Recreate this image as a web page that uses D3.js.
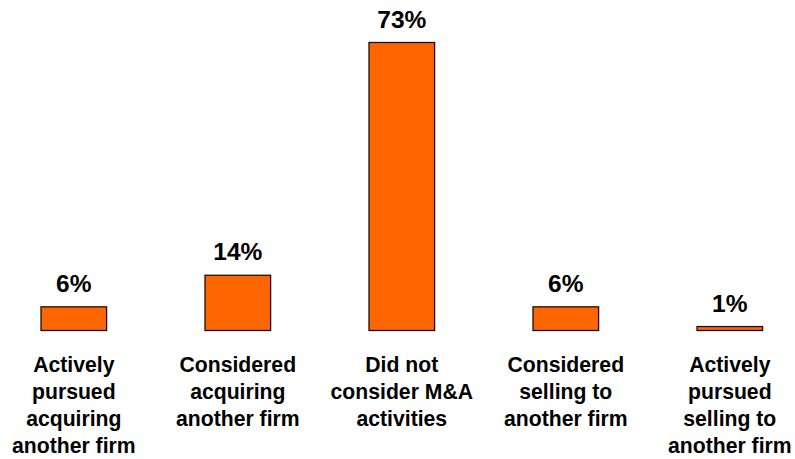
<!DOCTYPE html>
<html>
<head>
<meta charset="utf-8">
<script src="https://cdn.jsdelivr.net/npm/d3@7"></script>
<style>
  html, body { margin: 0; padding: 0; background: #ffffff; }
  svg { display: block; }
  text { font-family: Arial, "Liberation Sans", Helvetica, sans-serif; font-weight: bold; fill: #000; }
</style>
</head>
<body>
<svg id="chart" width="795" height="459"></svg>
<script>
// M&A activity responses
const categories = [
  ["Actively", "pursued", "acquiring", "another firm"],
  ["Considered", "acquiring", "another firm"],
  ["Did not", "consider M&A", "activities"],
  ["Considered", "selling to", "another firm"],
  ["Actively", "pursued", "selling to", "another firm"]
];
const values = [6, 14, 73, 6, 1];
const valueLabels = ["6%", "14%", "73%", "6%", "1%"];

const svg = d3.select("#chart");
const baseline = 330.5;

const x = d3.scaleBand()
  .domain(d3.range(categories.length))
  .range([-8.2, 811.8])
  .paddingInner(0.6)
  .paddingOuter(0.3);

const y = d3.scaleLinear()
  .domain([0, 73])
  .range([baseline, 42.5]);

const g = svg.append("g");

// bars
g.selectAll("rect.bar")
  .data(values)
  .join("rect")
  .attr("class", "bar")
  .attr("x", (d, i) => x(i))
  .attr("y", d => y(d))
  .attr("width", x.bandwidth())
  .attr("height", d => baseline - y(d))
  .attr("fill", "#ff6600")
  .attr("stroke", "#1a1008")
  .attr("stroke-width", 1.3);

// value labels above bars
g.selectAll("text.value")
  .data(values)
  .join("text")
  .attr("class", "value")
  .attr("x", (d, i) => x(i) + x.bandwidth() / 2)
  .attr("y", d => y(d) - 15)
  .attr("text-anchor", "middle")
  .style("font-size", "24.5px")
  .text((d, i) => valueLabels[i]);

// category labels below the baseline
const cat = g.selectAll("text.cat")
  .data(categories)
  .join("text")
  .attr("class", "cat")
  .attr("text-anchor", "middle")
  .style("font-size", "21.2px")
  .attr("transform", (d, i) => `translate(${x(i) + x.bandwidth() / 2},371.5)`);

cat.selectAll("tspan")
  .data(d => d)
  .join("tspan")
  .attr("x", 0)
  .attr("y", (d, j) => j * 27.1)
  .text(d => d);
</script>
</body>
</html>
